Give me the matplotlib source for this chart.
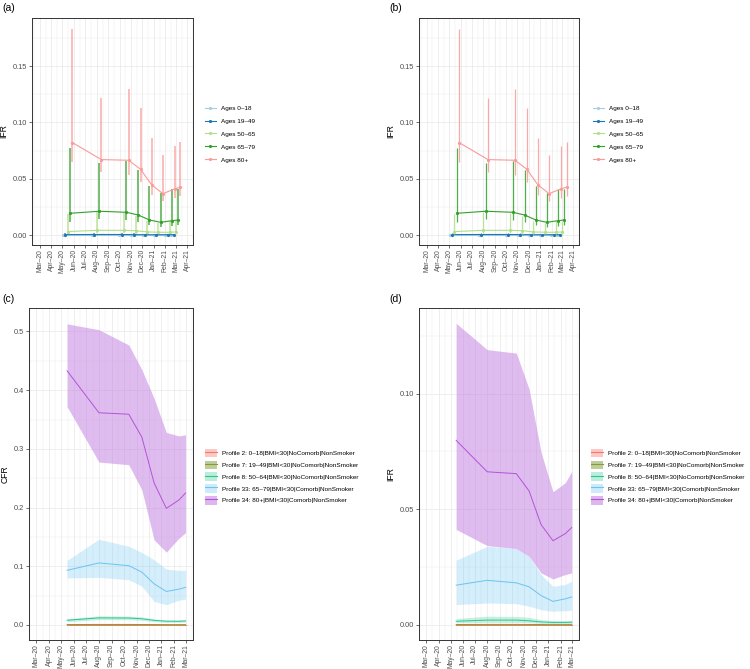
import matplotlib
matplotlib.use("Agg")
import matplotlib.pyplot as plt
import matplotlib.dates as mdates
from matplotlib.lines import Line2D
from matplotlib.patches import Patch
import numpy as np
import pandas as pd

plt.rcParams['font.family'] = ['Liberation Sans', 'DejaVu Sans']

# ---------------- data ----------------
dates = pd.to_datetime(['2020-05-15', '2020-08-01', '2020-10-13', '2020-11-14',
                        '2020-12-14', '2021-01-13', '2021-02-13', '2021-03-01'])

age_labels = ['Ages 0–18', 'Ages 19–49', 'Ages 50–65', 'Ages 65–79', 'Ages 80+']
age_colors = ['#a6cee3', '#1f78b4', '#b2df8a', '#33a02c', '#fb9a99']

ifr_0_18 = [0.00005, 0.00005, 0.00005, 0.00005, 0.00005, 0.00005, 0.00005, 0.00005]
ifr_0_18_lo = [0.0, 0.0, 0.0, 0.0, 0.0, 0.0, 0.0, 0.0]
ifr_0_18_hi = [0.0003, 0.0003, 0.0003, 0.0003, 0.0003, 0.0003, 0.0003, 0.0003]

ifr_19_49 = [0.0006, 0.0007, 0.0007, 0.0006, 0.0005, 0.0005, 0.0005, 0.0005]
ifr_19_49_lo = [0.0002, 0.0003, 0.0003, 0.0002, 0.0002, 0.0002, 0.0002, 0.0002]
ifr_19_49_hi = [0.0018, 0.0020, 0.0020, 0.0017, 0.0013, 0.0011, 0.0012, 0.0012]

ifr_50_65 = [0.0033, 0.0044, 0.0044, 0.0041, 0.0030, 0.0027, 0.0027, 0.0030]
ifr_50_65_lo = [0.0012, 0.0016, 0.0016, 0.0015, 0.0011, 0.0010, 0.0010, 0.0011]
ifr_50_65_hi = [0.0190, 0.0210, 0.0200, 0.0175, 0.0130, 0.0110, 0.0125, 0.0130]

ifr_65_79 = [0.0195, 0.0213, 0.0204, 0.0180, 0.0136, 0.0115, 0.0130, 0.0136]
ifr_65_79_lo = [0.0120, 0.0145, 0.0136, 0.0120, 0.0092, 0.0074, 0.0083, 0.0089]
ifr_65_79_hi = [0.0777, 0.0640, 0.0660, 0.0580, 0.0440, 0.0372, 0.0408, 0.0414]

ifr_80 = [0.0822, 0.0671, 0.0665, 0.0585, 0.0446, 0.0369, 0.0411, 0.0426]
ifr_80_lo = [0.0653, 0.0564, 0.0535, 0.0476, 0.0358, 0.0301, 0.0334, 0.0349]
ifr_80_hi = [0.1830, 0.1220, 0.1300, 0.1130, 0.0860, 0.0715, 0.0795, 0.0830]

age_mid = [ifr_0_18, ifr_19_49, ifr_50_65, ifr_65_79, ifr_80]
age_lo = [ifr_0_18_lo, ifr_19_49_lo, ifr_50_65_lo, ifr_65_79_lo, ifr_80_lo]
age_hi = [ifr_0_18_hi, ifr_19_49_hi, ifr_50_65_hi, ifr_65_79_hi, ifr_80_hi]

prof_labels = ['Profile 2: 0–18|BMI<30|NoComorb|NonSmoker',
               'Profile 7: 19–49|BMI<30|NoComorb|NonSmoker',
               'Profile 8: 50–64|BMI<30|NoComorb|NonSmoker',
               'Profile 33: 65–79|BMI<30|Comorb|NonSmoker',
               'Profile 34: 80+|BMI<30|Comorb|NonSmoker']
prof_line_colors = ['#F8766D', '#8C9A2E', '#2EC48A', '#6CC3F2', '#B553D6']
prof_fill_colors = ['#F8766D', '#7E9A3C', '#00BF7D', '#7CCBF5', '#C17AE0']
prof_fill_alpha = [0.35, 0.45, 0.22, 0.32, 0.5]

# CFR (panel c)
cfr_p2 = [0.00002] * 8
cfr_p2_lo = [0.0] * 8
cfr_p2_hi = [0.0001] * 8
cfr_p7 = [0.0006, 0.0008, 0.0008, 0.0007, 0.0006, 0.0005, 0.0005, 0.0005]
cfr_p7_lo = [0.0003, 0.0004, 0.0004, 0.0003, 0.0003, 0.0002, 0.0002, 0.0002]
cfr_p7_hi = [0.0012, 0.0016, 0.0016, 0.0014, 0.0012, 0.0010, 0.0010, 0.0010]
cfr_p8 = [0.0080, 0.0120, 0.0118, 0.0105, 0.0078, 0.0063, 0.0062, 0.0068]
cfr_p8_lo = [0.0055, 0.0090, 0.0088, 0.0078, 0.0057, 0.0045, 0.0045, 0.0050]
cfr_p8_hi = [0.0105, 0.0155, 0.0150, 0.0135, 0.0102, 0.0085, 0.0085, 0.0090]
cfr_p33 = [0.0930, 0.1056, 0.1010, 0.0900, 0.0700, 0.0570, 0.0610, 0.0640]
cfr_p33_lo = [0.0800, 0.0810, 0.0770, 0.0660, 0.0400, 0.0346, 0.0420, 0.0440]
cfr_p33_hi = [0.1100, 0.1460, 0.1340, 0.1235, 0.1110, 0.0950, 0.0930, 0.0930]
cfr_p34 = [0.4330, 0.3615, 0.3590, 0.3200, 0.2420, 0.1986, 0.2130, 0.2247]
cfr_p34_lo = [0.3720, 0.2775, 0.2730, 0.2300, 0.1450, 0.1240, 0.1480, 0.1570]
cfr_p34_hi = [0.5130, 0.5030, 0.4770, 0.4350, 0.3860, 0.3280, 0.3220, 0.3240]

# IFR (panel d)
ifr_p2 = [0.00001] * 8
ifr_p2_lo = [0.0] * 8
ifr_p2_hi = [0.00004] * 8
ifr_p7 = [0.00020, 0.00025, 0.00025, 0.00022, 0.00018, 0.00015, 0.00015, 0.00016]
ifr_p7_lo = [0.00010, 0.00012, 0.00012, 0.00011, 0.00009, 0.00008, 0.00008, 0.00008]
ifr_p7_hi = [0.00040, 0.00050, 0.00050, 0.00045, 0.00036, 0.00030, 0.00030, 0.00032]
ifr_p8 = [0.0016, 0.0021, 0.0021, 0.0018, 0.0013, 0.0011, 0.0011, 0.0012]
ifr_p8_lo = [0.0009, 0.0011, 0.0011, 0.0010, 0.0007, 0.0006, 0.0006, 0.0006]
ifr_p8_hi = [0.0028, 0.0038, 0.0037, 0.0033, 0.0023, 0.0019, 0.0019, 0.0020]
ifr_p33 = [0.0172, 0.0193, 0.0182, 0.0165, 0.0127, 0.0102, 0.0113, 0.0121]
ifr_p33_lo = [0.0088, 0.0095, 0.0092, 0.0081, 0.0066, 0.0059, 0.0062, 0.0063]
ifr_p33_hi = [0.0280, 0.0340, 0.0330, 0.0297, 0.0218, 0.0167, 0.0175, 0.0189]
ifr_p34 = [0.0798, 0.0662, 0.0654, 0.0579, 0.0434, 0.0364, 0.0395, 0.0421]
ifr_p34_lo = [0.0413, 0.0343, 0.0330, 0.0297, 0.0225, 0.0199, 0.0218, 0.0225]
ifr_p34_hi = [0.1304, 0.1190, 0.1175, 0.1020, 0.0747, 0.0576, 0.0615, 0.0664]

cfr_mid = [cfr_p2, cfr_p7, cfr_p8, cfr_p33, cfr_p34]
cfr_lo = [cfr_p2_lo, cfr_p7_lo, cfr_p8_lo, cfr_p33_lo, cfr_p34_lo]
cfr_hi = [cfr_p2_hi, cfr_p7_hi, cfr_p8_hi, cfr_p33_hi, cfr_p34_hi]
ifrp_mid = [ifr_p2, ifr_p7, ifr_p8, ifr_p33, ifr_p34]
ifrp_lo = [ifr_p2_lo, ifr_p7_lo, ifr_p8_lo, ifr_p33_lo, ifr_p34_lo]
ifrp_hi = [ifr_p2_hi, ifr_p7_hi, ifr_p8_hi, ifr_p33_hi, ifr_p34_hi]

# ---------------- figure ----------------
W, H = 750, 669
fig = plt.figure(figsize=(7.5, 6.69), dpi=100)


def add_ax(l, t, r, b):
    return fig.add_axes([l / W, 1 - b / H, (r - l) / W, (b - t) / H])


XTICK_FS = 4.9
YTICK_FS = 5.3
LEG_FS = 4.6
TITLE_FS = 6.2
TAG_FS = 7.5
GRID = '#EBEBEB'


def style_axis(ax, first_month, last_month, xlim, ylim, yticks, yminor, yfmt):
    months = pd.date_range(first_month, last_month, freq='MS')
    minors = [m - (m - pm) / 2 for pm, m in zip(months[:-1], months[1:])]
    minors = [months[0] - pd.Timedelta(days=15)] + list(minors) + [months[-1] + pd.Timedelta(days=15)]
    ax.set_xlim(mdates.date2num(xlim[0]), mdates.date2num(xlim[1]))
    ax.set_ylim(*ylim)
    ax.set_xticks(mdates.date2num(months))
    ax.set_xticks(mdates.date2num(minors), minor=True)
    ax.set_xticklabels([m.strftime('%b–%y') for m in months], rotation=90,
                       fontsize=XTICK_FS, color='#4D4D4D')
    ax.set_yticks(yticks)
    ax.set_yticks(yminor, minor=True)
    ax.set_yticklabels([yfmt.format(v) for v in yticks], fontsize=YTICK_FS, color='#4D4D4D')
    ax.grid(True, which='major', color=GRID, linewidth=0.6, zorder=0)
    ax.grid(True, which='minor', color=GRID, linewidth=0.35, zorder=0)
    ax.set_axisbelow(True)
    ax.tick_params(which='major', length=2, width=0.5, color='#333333', pad=1.5)
    ax.tick_params(axis='x', which='major', pad=1.0)
    ax.tick_params(which='minor', length=0)
    for s in ax.spines.values():
        s.set_color('#333333')
        s.set_linewidth(0.7)


def draw_ages(ax, lw_err):
    step = 6.2
    for i in range(5):
        off = (i - 2) * step
        x = mdates.date2num(dates) + off
        c = age_colors[i]
        ax.vlines(x, age_lo[i], age_hi[i], color=c, linewidth=lw_err, alpha=0.85, zorder=2 + i)
        ax.plot(x, age_mid[i], color=c, linewidth=0.8, marker='o', markersize=2.3,
                markeredgewidth=0, zorder=3 + i)


def age_legend(fig, x, y):
    handles = [Line2D([0], [0], color=c, linewidth=0.8, marker='o', markersize=2.3,
                      markeredgewidth=0) for c in age_colors]
    fig.legend(handles, age_labels, loc='center left', bbox_to_anchor=(x / W, 1 - y / H),
               bbox_transform=fig.transFigure, frameon=False, fontsize=LEG_FS,
               handlelength=1.7, handleheight=1.2, labelspacing=1.0, handletextpad=0.8,
               borderpad=0, borderaxespad=0)


def draw_profiles(ax, mids, los, his):
    x = mdates.date2num(dates)
    for i in range(5):
        ax.fill_between(x, los[i], his[i], color=prof_fill_colors[i], alpha=prof_fill_alpha[i],
                        linewidth=0, zorder=2 + i)
        ax.plot(x, mids[i], color=prof_line_colors[i], linewidth=0.7, zorder=3 + i)


def prof_legend(fig, x, y):
    handles = [(Patch(facecolor=prof_fill_colors[i], alpha=prof_fill_alpha[i] + 0.05, linewidth=0),
                Line2D([0], [0], color=prof_line_colors[i], linewidth=0.8)) for i in range(5)]
    fig.legend(handles, prof_labels, loc='center left', bbox_to_anchor=(x / W, 1 - y / H),
               bbox_transform=fig.transFigure, frameon=False, fontsize=LEG_FS,
               handlelength=1.85, handleheight=1.7, labelspacing=0.5, handletextpad=0.75,
               borderpad=0, borderaxespad=0)


ts = pd.Timestamp
# Panel (a)
axa = add_ax(32, 18, 193, 245)
draw_ages(axa, 1.1)
style_axis(axa, '2020-03-01', '2021-04-01',
           (ts('2020-03-01') - pd.Timedelta(days=20.7), ts('2021-04-01') + pd.Timedelta(days=0.8)),
           (-0.0086, 0.1926), [0, 0.05, 0.10, 0.15], [0.025, 0.075, 0.125, 0.175], '{:.2f}')
axa.set_ylabel('IFR', fontsize=TITLE_FS, labelpad=3)
age_legend(fig, 205, 134)
fig.text(2 / W, 1 - 8 / H, '(a)', fontsize=TAG_FS, va='center', ha='left')

# Panel (b)
axb = add_ax(419, 18, 579, 245)
draw_ages(axb, 0.9)
style_axis(axb, '2020-03-01', '2021-04-01',
           (ts('2020-03-01') - pd.Timedelta(days=20.7), ts('2021-04-01') + pd.Timedelta(days=0.8)),
           (-0.0086, 0.1926), [0, 0.05, 0.10, 0.15], [0.025, 0.075, 0.125, 0.175], '{:.2f}')
axb.set_ylabel('IFR', fontsize=TITLE_FS, labelpad=3)
age_legend(fig, 593, 134)
fig.text(389 / W, 1 - 8 / H, '(b)', fontsize=TAG_FS, va='center', ha='left')

# Panel (c)
axc = add_ax(29, 308, 193, 640)
draw_profiles(axc, cfr_mid, cfr_lo, cfr_hi)
style_axis(axc, '2020-03-01', '2021-03-01',
           (ts('2020-03-01') - pd.Timedelta(days=18.25), ts('2021-03-01') + pd.Timedelta(days=18.25)),
           (-0.0257, 0.540), [0, 0.1, 0.2, 0.3, 0.4, 0.5], [0.05, 0.15, 0.25, 0.35, 0.45], '{:.1f}')
axc.set_ylabel('CFR', fontsize=TITLE_FS, labelpad=3)
prof_legend(fig, 205, 476.7)
fig.text(2 / W, 1 - 299 / H, '(c)', fontsize=TAG_FS, va='center', ha='left')

# Panel (d)
axd = add_ax(419, 308, 579, 640)
draw_profiles(axd, ifrp_mid, ifrp_lo, ifrp_hi)
style_axis(axd, '2020-03-01', '2021-03-01',
           (ts('2020-03-01') - pd.Timedelta(days=18.25), ts('2021-03-01') + pd.Timedelta(days=18.25)),
           (-0.0065, 0.1370), [0, 0.05, 0.10], [0.025, 0.075, 0.125], '{:.2f}')
axd.set_ylabel('IFR', fontsize=TITLE_FS, labelpad=3)
prof_legend(fig, 591, 476.7)
fig.text(389 / W, 1 - 299 / H, '(d)', fontsize=TAG_FS, va='center', ha='left')

fig.savefig('out.png', dpi=100, facecolor='white')
